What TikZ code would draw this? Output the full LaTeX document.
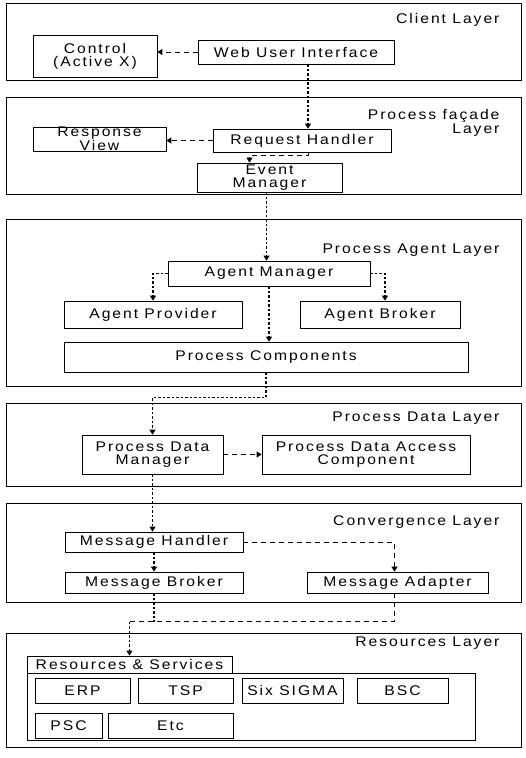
\documentclass[tikz,border=0pt]{standalone}
\usepackage{fontspec}
\setmainfont{Liberation Sans}[LetterSpace=14, FakeStretch=1.12]
\usepackage{tikz}
\usetikzlibrary{arrows.meta,calc}

\begin{document}
\begin{tikzpicture}[x=1pt,y=-1pt]
	\useasboundingbox (0,0) rectangle (525,758);
	% layers
	\begin{scope}[line width=0.9pt]
		\draw (6,3) rectangle (521,80);
		\draw (6,97) rectangle (521,194);
		\draw (6,219) rectangle (521,386);
		\draw (6,403) rectangle (521,486);
		\draw (6,503) rectangle (521,602);
		\draw (6,633) rectangle (521,747);
		\draw[line width=0.8pt] (27,673) rectangle (475,740);
	\end{scope}
	\begin{scope}[every node/.style = {anchor=east, align=right,
		font=\fontsize{14}{12}\selectfont}]
		\node (tclient) at (503,20) {Client Layer};
		\node (tfacade) at (503,123) {Process façade\\Layer};
		\node (tagent) at (503,250) {Process Agent Layer};
		\node (tdata) at (503,418) {Process Data Layer};
		\node (tconv) at (503,522) {Convergence Layer};
		\node (tres) at (503,643) {Resources Layer};
	\end{scope}
	\begin{scope}[every node/.style = {draw, rectangle, line width=0.7pt,
		inner sep=0pt, align=center, font=\fontsize{14}{13}\selectfont}]
		\node [minimum width=124, minimum height=42] (ctrl) at (95,56) {Control\\(Active X)};
		\node [minimum width=196, minimum height=24] (wui) at (296,52) {Web User Interface};
		\node [minimum width=133, minimum height=24] (resp) at (99.5,139) {Response\\View};
		\node [minimum width=178, minimum height=23] (req) at (302,140.5) {Request Handler};
		\node [minimum width=145, minimum height=29] (evt) at (269.5,177.5) {Event\\Manager};
		\node [minimum width=202, minimum height=25] (am) at (269,273.5) {Agent Manager};
		\node [minimum width=178, minimum height=27] (ap) at (153,314.5) {Agent Provider};
		\node [minimum width=160, minimum height=27] (ab) at (380,314.5) {Agent Broker};
		\node [minimum width=404, minimum height=30] (pc) at (266,357) {Process Components};
		\node [minimum width=141, minimum height=39] (pdm) at (152.5,454.5) {Process Data\\Manager};
		\node [minimum width=208, minimum height=39] (pdac) at (366,454.5) {Process Data Access\\Component};
		\node [minimum width=178, minimum height=20] (mh) at (154,542) {Message Handler};
		\node [minimum width=178, minimum height=21] (mb) at (154,582.5) {Message Broker};
		\node [minimum width=181, minimum height=21] (ma) at (397.5,582.5) {Message Adapter};
		\node [minimum width=205, minimum height=17] (rs) at (129.5,664.5) {Resources \& Services};
		\node [minimum width=95, minimum height=25] (erp) at (82.5,690.5) {ERP};
		\node [minimum width=95, minimum height=25] (tsp) at (185.5,690.5) {TSP};
		\node [minimum width=101, minimum height=25] (six) at (292.5,690.5) {Six SIGMA};
		\node [minimum width=91, minimum height=25] (bsc) at (402.5,690.5) {BSC};
		\node [minimum width=67, minimum height=25] (psc) at (68.5,725.5) {PSC};
		\node [minimum width=125, minimum height=25] (etc) at (170.5,725.5) {Etc};
	\end{scope}
	\begin{scope}[>={Triangle[length=5pt, width=6pt]},
		hlink/.style={line width=1pt, dash pattern=on 5pt off 4pt},
		vlink/.style={line width=1.2pt, dash pattern=on 2.5pt off 2pt}]
		\coordinate (join) at ($(rs.north)+(0,-34)$);
		\path [->, hlink] (wui.west) edge (wui.west -| ctrl.east);
		\path [->, vlink] ([xshift=12pt]wui.south) edge ([xshift=6pt]req.north);
		\path [->, hlink] (req.west) edge (req.west -| resp.east);
		\draw [->, hlink] ([xshift=6pt]req.south) -- ++(0,3) -| ([xshift=-20pt]evt.north);
		\path [->, vlink] ([xshift=-3pt]evt.south) edge ([xshift=-3pt]evt.south |- am.north);
		\draw [->, vlink] (am.west) -| (ap.north);
		\draw [->, vlink] (am.east) -| ([xshift=5pt]ab.north);
		\path [->, vlink] (am.south) edge (am.south |- pc.north);
		\draw [->, vlink] (pc.south) -- ++(0,25) -| (pdm.north);
		\path [->, hlink] (pdm.east) edge (pdac.west);
		\path [->, vlink] (pdm.south) edge (pdm.south |- mh.north);
		\draw [->, hlink] (mh.east) -| ([xshift=-3pt]ma.north);
		\path [->, vlink] (mh.south) edge (mb.north);
		\path [vlink] (mb.south) edge (mb.south |- join);
		\draw [hlink] ([xshift=-3pt]ma.south) |- (join);
		\path [->, vlink] (join) edge (rs.north);
	\end{scope}
\end{tikzpicture}
\end{document}
